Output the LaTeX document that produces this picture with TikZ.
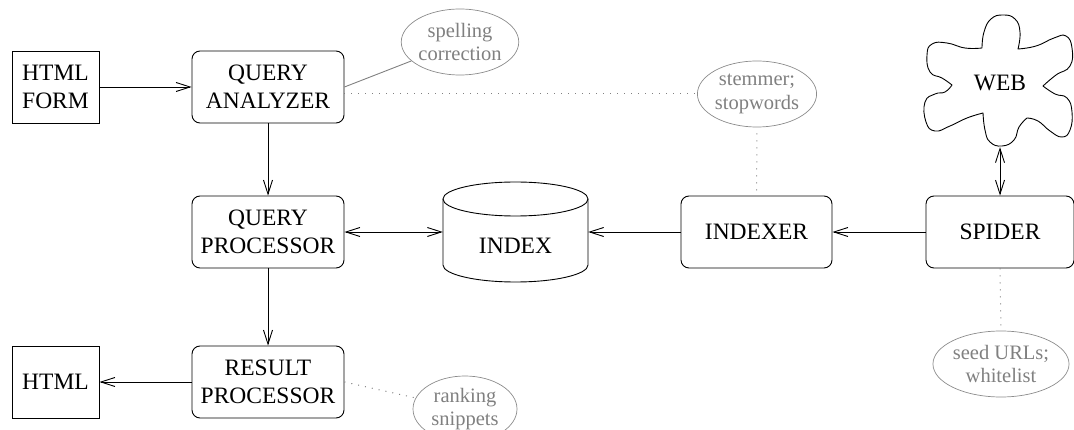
\documentclass[tikz,border=0pt]{standalone}
\usepackage{fontspec}
\setmainfont{Liberation Serif}
\usetikzlibrary{arrows.meta,shapes.geometric}
\begin{document}
\begin{tikzpicture}[x=1pt,y=1pt,
  bigtext/.style={font=\fontsize{23.5}{28}\selectfont},
  box/.style={draw, rounded corners=8pt, minimum width=152pt, minimum height=72pt,
    align=center, bigtext, inner sep=0pt, line width=0.9pt},
  sqbox/.style={draw, minimum width=87pt, minimum height=72pt, align=center,
    bigtext, inner sep=0pt, line width=0.9pt},
  note/.style={ellipse, draw=gray!90, text=gray, minimum width=104pt, minimum height=66pt,
    inner sep=0pt, align=center, font=\fontsize{20.5}{23.5}\selectfont, line width=0.7pt},
  tip/.tip={Straight Barb[length=14pt,width=9pt,line width=0.9pt]},
  link/.style={line width=0.9pt, -tip},
  twoway/.style={line width=0.9pt, tip-tip},
  dotline/.style={gray, line width=1pt, dash pattern=on 1pt off 6pt},
  greyline/.style={gray, line width=0.9pt}
]
\useasboundingbox (0,0) rectangle (1074,-430);

% boxes
\node[sqbox] (form) at (55.5,-87) {HTML\\FORM};
\node[box] (qa) at (268,-87) {QUERY\\ANALYZER};
\node[box] (qp) at (268,-232) {QUERY\\PROCESSOR};
\node[box] (rp) at (268,-382) {RESULT\\PROCESSOR};
\node[sqbox] (html) at (55.5,-382) {HTML};
\node[box, minimum width=151pt] (indexer) at (756.5,-232) {INDEXER};
\node[box, minimum width=148pt] (spider) at (1000,-232) {SPIDER};

% index cylinder
\node[minimum width=145pt, minimum height=100pt, inner sep=0pt,
  label={[bigtext, yshift=-13.5pt]center:INDEX}] (index) at (515.5,-232) {};
\draw[line width=0.9pt] (515.5,-199) ellipse [x radius=72.5pt, y radius=17pt];
\draw[line width=0.9pt] (443,-199) -- (443,-265)
  arc[start angle=180, end angle=360, x radius=72.5pt, y radius=17pt] -- (588,-199);

% web cloud
\node[bigtext, minimum width=150pt, minimum height=128pt, inner sep=0pt] (web) at (1000,-83) {WEB};
\draw[line width=0.9pt, line join=round]
  plot[smooth, tension=0.8] coordinates {(982,-48) (984,-32) (991,-19) (1003,-15) (1015,-19) (1020,-32) (1018,-49)}
  -- plot[smooth, tension=0.8] coordinates {(1018,-49) (1036,-46) (1054,-38) (1066,-36) (1072,-48) (1070,-66) (1056,-75) (1043,-86)}
  -- plot[smooth, tension=0.8] coordinates {(1043,-86) (1055,-94) (1067,-98) (1072,-112) (1070,-130) (1062,-137) (1050,-131) (1038,-121) (1027,-118)}
  -- plot[smooth, tension=0.8] coordinates {(1027,-118) (1019,-127) (1014,-140) (1002,-146) (990,-142) (985,-130) (983,-113)}
  -- plot[smooth, tension=0.8] coordinates {(983,-113) (967,-118) (950,-126) (935,-131) (926,-122) (925,-102) (935,-94) (945,-92) (952,-85)}
  -- plot[smooth, tension=0.8] coordinates {(952,-85) (942,-78) (930,-72) (927,-55) (932,-44) (947,-43) (965,-48) (982,-48)}
  -- cycle;

% notes
\node[note] (spell) at (460,-42) {spelling\\correction};
\node[note] (stem) at (757,-94) {stemmer;\\stopwords};
\node[note] (seed) at (1001,-364) {seed URLs;\\whitelist};
\node[note] (rank) at (465,-409) {ranking\\snippets};

% connectors
\draw[link] (form) -- (qa);
\draw[link] (qa) -- (qp);
\draw[link] (qp) -- (rp);
\draw[link] (rp) -- (html);
\draw[twoway] (qp) -- (index);
\draw[link] (indexer) -- (index);
\draw[link] (spider) -- (indexer);
\draw[twoway] (web.south) -- (spider.north);

\draw[greyline] (qa.east) -- (spell);
\draw[dotline] (qa.east |- stem.west) -- (stem.west);
\draw[dotline, shorten <=6pt] (stem.south) -- (indexer.north);
\draw[dotline] (rp.east) -- (rank);
\draw[dotline] (spider.south) -- (seed.north);
\end{tikzpicture}
\end{document}
